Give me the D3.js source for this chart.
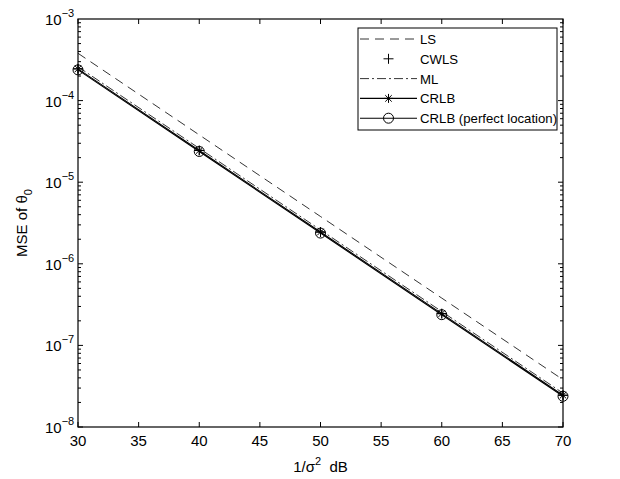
<!DOCTYPE html>
<html><head><meta charset="utf-8">
<script src="https://cdn.jsdelivr.net/npm/d3@7"></script>
<style>body{margin:0;background:#fff}svg{display:block;font-family:"Liberation Sans",Arial,sans-serif}</style>
</head><body><svg id="c" width="620" height="479"></svg>
<script>
const snr = [30, 40, 50, 60, 70];
const ls = [3.8e-4, 3.8e-5, 3.8e-6, 3.8e-7, 3.8e-8];
const cwls = [2.45e-4, 2.45e-5, 2.45e-6, 2.45e-7, 2.45e-8];
const ml = [2.6e-4, 2.6e-5, 2.6e-6, 2.6e-7, 2.6e-8];
const crlb = [2.45e-4, 2.45e-5, 2.45e-6, 2.45e-7, 2.45e-8];
const crlbPerfect = [2.38e-4, 2.38e-5, 2.38e-6, 2.38e-7, 2.38e-8];
const xTicks = [30, 35, 40, 45, 50, 55, 60, 65, 70];
const yExps = [-3, -4, -5, -6, -7, -8];
const legendLabels = ["LS", "CWLS", "ML", "CRLB", "CRLB (perfect location)"];

const svg = d3.select("#c");
const L = 78, R = 563, T = 19, B = 427;
const x = d3.scaleLinear().domain([30, 70]).range([L, R]);
const y = d3.scaleLog().domain([1e-8, 1e-3]).range([B, T]);

const g = svg.append("g");
const tl = 5;
xTicks.forEach(v => {
  g.append("line").attr("x1", x(v)).attr("x2", x(v)).attr("y1", B).attr("y2", B - tl).attr("stroke", "#000");
  g.append("line").attr("x1", x(v)).attr("x2", x(v)).attr("y1", T).attr("y2", T + tl).attr("stroke", "#000");
  g.append("text").attr("x", x(v)).attr("y", B + 19).attr("text-anchor", "middle").attr("font-size", 15).text(v);
});
for (let e = -8; e < -3; e++) {
  for (let m = 1; m < 10; m++) {
    const v = m * Math.pow(10, e);
    const len = m === 1 ? 5 : 3;
    g.append("line").attr("x1", L).attr("x2", L + len).attr("y1", y(v)).attr("y2", y(v)).attr("stroke", "#000");
    g.append("line").attr("x1", R).attr("x2", R - len).attr("y1", y(v)).attr("y2", y(v)).attr("stroke", "#000");
  }
}
yExps.forEach(e => {
  const t = g.append("text").attr("x", 45).attr("y", y(Math.pow(10, e)) + 6).attr("font-size", 15);
  t.append("tspan").text("10");
  t.append("tspan").attr("dy", -8).attr("font-size", 11).text("\u2212" + Math.abs(e));
});

const line = d3.line().x((d, i) => x(snr[i])).y(d => y(d));
svg.append("path").datum(ls).attr("d", line).attr("fill", "none").attr("stroke", "#000").attr("stroke-width", 0.8).attr("stroke-dasharray", "9,6");
svg.append("path").datum(ml).attr("d", line).attr("fill", "none").attr("stroke", "#000").attr("stroke-width", 0.8).attr("stroke-dasharray", "9,3,2,3");
svg.append("path").datum(crlb).attr("d", line).attr("fill", "none").attr("stroke", "#000").attr("stroke-width", 1.1);
svg.append("path").datum(crlbPerfect).attr("d", line).attr("fill", "none").attr("stroke", "#000").attr("stroke-width", 1.1);

function plus(sel, cx, cy, r) {
  sel.append("path").attr("d", `M${cx - r},${cy}H${cx + r}M${cx},${cy - r}V${cy + r}`).attr("stroke", "#000").attr("stroke-width", 1).attr("fill", "none");
}
function star(sel, cx, cy, r) {
  const d = r * 0.72;
  sel.append("path").attr("d", `M${cx - r},${cy}H${cx + r}M${cx},${cy - r}V${cy + r}M${cx - d},${cy - d}L${cx + d},${cy + d}M${cx - d},${cy + d}L${cx + d},${cy - d}`).attr("stroke", "#000").attr("stroke-width", 1).attr("fill", "none");
}
function circ(sel, cx, cy, r) {
  sel.append("circle").attr("cx", cx).attr("cy", cy).attr("r", r).attr("stroke", "#000").attr("stroke-width", 1).attr("fill", "none");
}
const mk = svg.append("g");
cwls.forEach((v, i) => plus(mk, x(snr[i]), y(v), 5));
crlb.forEach((v, i) => star(mk, x(snr[i]), y(v), 4.5));
crlbPerfect.forEach((v, i) => circ(mk, x(snr[i]), y(v), 5));

svg.append("rect").attr("x", L).attr("y", T).attr("width", R - L).attr("height", B - T).attr("fill", "none").attr("stroke", "#000").attr("stroke-width", 1.2);

const lg = svg.append("g");
const lx = 358, ly = 28, lw = 199, lh = 102;
lg.append("rect").attr("x", lx).attr("y", ly).attr("width", lw).attr("height", lh).attr("fill", "#fff").attr("stroke", "#000").attr("stroke-width", 1);
const styles = ["9,6", null, "9,3,2,3", "", ""];
legendLabels.forEach((lab, i) => {
  const yy = ly + 11 + i * 19.8;
  const x1 = lx + 2, x2 = lx + 59;
  if (i !== 1) {
    const ln = lg.append("line").attr("x1", x1).attr("x2", x2).attr("y1", yy).attr("y2", yy).attr("stroke", "#000").attr("stroke-width", i >= 3 ? 1.1 : 0.8);
    if (styles[i]) ln.attr("stroke-dasharray", styles[i]);
  }
  const cx = (x1 + x2) / 2;
  if (i === 1) plus(lg, cx, yy, 5);
  if (i === 3) star(lg, cx, yy, 4.5);
  if (i === 4) circ(lg, cx, yy, 5);
  lg.append("text").attr("x", lx + 62).attr("y", yy + 5).attr("font-size", 13.2).text(lab);
});

const xl = svg.append("text").attr("x", x(50)).attr("y", 472).attr("text-anchor", "middle").attr("font-size", 15);
xl.append("tspan").text("1/\u03c3");
xl.append("tspan").attr("dy", -7).attr("font-size", 11).text("2");
xl.append("tspan").attr("dy", 7).text("\u00a0 dB");
const yl = svg.append("text").attr("transform", `translate(27,${(T + B) / 2}) rotate(-90)`).attr("text-anchor", "middle").attr("font-size", 15);
yl.append("tspan").text("MSE of  \u03b8");
yl.append("tspan").attr("dy", 5).attr("font-size", 11).text("0");
</script></body></html>
